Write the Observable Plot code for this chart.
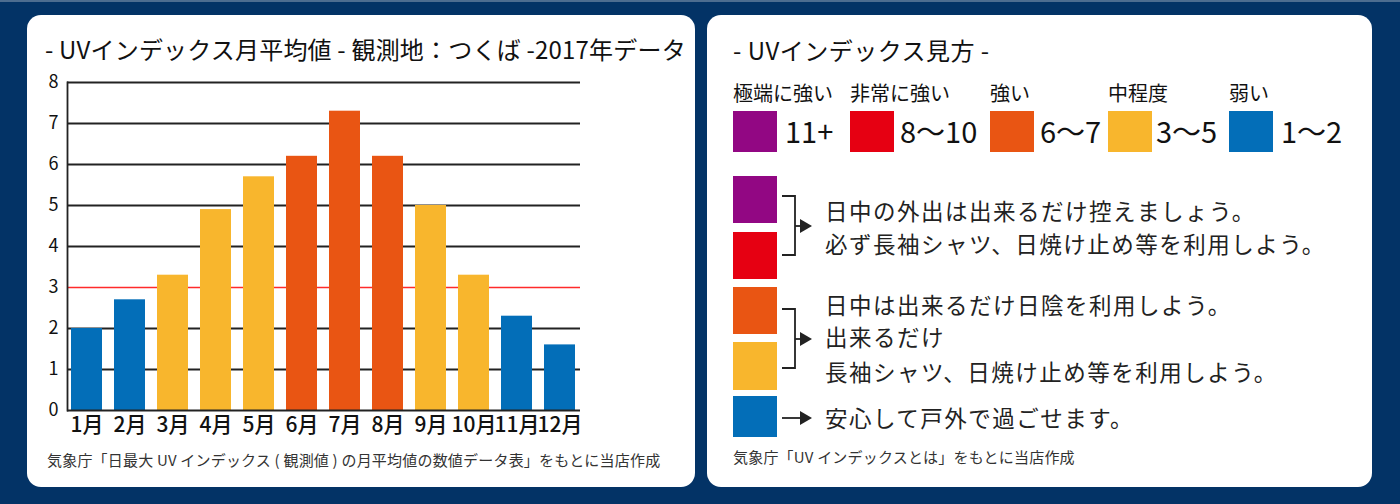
<!DOCTYPE html>
<html lang="ja">
<head>
<meta charset="utf-8">
<script src="https://cdn.jsdelivr.net/npm/d3@7"></script>
<script src="https://cdn.jsdelivr.net/npm/@observablehq/plot@0.6"></script>
<style>
  html, body { margin: 0; padding: 0; }
  body { width: 1400px; height: 504px; background: #033366; position: relative; overflow: hidden;
         font-family: "Noto Sans CJK JP", "Noto Sans", sans-serif; color: #1a1a1a; }
  .topstrip { position: absolute; left: 0; top: 0; width: 1400px; height: 2px; background: #4d6d90; }
  .card { position: absolute; background: #fff; border-radius: 14px; }
  .abs { position: absolute; white-space: nowrap; line-height: 1; }
  .sw { position: absolute; width: 44px; }
</style>
</head>
<body>
<div class="topstrip"></div>
<div class="card" style="left:27px; top:15px; width:668px; height:472px;"></div>
<div class="card" style="left:707px; top:15px; width:665px; height:472px;"></div>

<div class="abs" style="left:45px; top:37px; font-size:24px; letter-spacing:0.2px; color:#111;">- UVインデックス月平均値 - 観測地：つくば -2017年データ</div>
<div id="chart" style="position:absolute; left:27px; top:62px;"></div>
<div class="abs" style="left:47px; top:452px; font-size:15px; letter-spacing:0.2px; color:#333;">気象庁「日最大 UV インデックス ( 観測値 ) の月平均値の数値データ表」をもとに当店作成</div>

<div class="abs" style="left:733px; top:38px; font-size:24px; letter-spacing:0.5px; color:#111;">- UVインデックス見方 -</div>
<div id="legend"></div>
<div id="advice"></div>
<div class="abs" style="left:733px; top:449px; font-size:15px; letter-spacing:0.2px; color:#333;">気象庁「UV インデックスとは」をもとに当店作成</div>

<script>
// ---- data ----
const months = ["1月","2月","3月","4月","5月","6月","7月","8月","9月","10月","11月","12月"];
const uvValues = [2.0, 2.7, 3.3, 4.9, 5.7, 6.2, 7.3, 6.2, 5.0, 3.3, 2.3, 1.6];
const uvLevels = ["弱い","弱い","中程度","中程度","中程度","強い","強い","強い","中程度","中程度","弱い","弱い"];
const levelNames = ["極端に強い","非常に強い","強い","中程度","弱い"];
const levelRanges = ["11+","8～10","6～7","3～5","1～2"];
const levelColors = ["#920783","#e60012","#e95513","#f8b62d","#036eb8"];
const yTicks = [0,1,2,3,4,5,6,7,8];
const gridValues = [1,2,4,5,6,7,8];
const threshold = [3];
const adviceGroups = [
  {levels: ["極端に強い","非常に強い"], lines: ["日中の外出は出来るだけ控えましょう。","必ず長袖シャツ、日焼け止め等を利用しよう。"]},
  {levels: ["強い","中程度"], lines: ["日中は出来るだけ日陰を利用しよう。","出来るだけ","長袖シャツ、日焼け止め等を利用しよう。"]},
  {levels: ["弱い"], lines: ["安心して戸外で過ごせます。"]}
];

const data = months.map((m, i) => ({month: m, value: uvValues[i], level: uvLevels[i]}));

const chart = Plot.plot({
  width: 570,
  height: 388,
  marginLeft: 40,
  marginRight: 17,
  marginTop: 20,
  marginBottom: 40,
  x: {domain: months, paddingInner: 0.27, paddingOuter: 0.1, label: null},
  y: {domain: [0, 8], label: null},
  color: {domain: levelNames, range: levelColors},
  style: {fontFamily: "'Noto Sans CJK JP', sans-serif", background: "transparent", color: "#111", overflow: "visible"},
  marks: [
    Plot.ruleY(gridValues, {stroke: "#222", strokeWidth: 1.8}),
    Plot.ruleY(threshold, {stroke: "#ff2b2b", strokeWidth: 1.3}),
    Plot.barY(data, {x: "month", y: "value", fill: "level"}),
    Plot.ruleY([0], {stroke: "#222", strokeWidth: 1.8}),
    Plot.frame({anchor: "left", stroke: "#222", strokeWidth: 1.8}),
    Plot.axisY({ticks: yTicks, tickSize: 0, tickPadding: 9, fontSize: 18, label: null}),
    Plot.axisX({tickSize: 0, tickPadding: 7, fontSize: 21, fontWeight: 500, label: null})
  ]
});
document.getElementById("chart").appendChild(chart);

// ---- legend (right card) ----
const legendLeft = [733, 850, 990, 1108, 1229];
const legendValLeft = [785, 900, 1040, 1156, 1281];
const legend = document.getElementById("legend");
levelNames.forEach((name, i) => {
  legend.insertAdjacentHTML("beforeend",
    `<div class="abs" style="left:${legendLeft[i]}px; top:83px; font-size:20px; color:#111;">${name}</div>` +
    `<div class="sw" style="left:${legendLeft[i]}px; top:111px; height:41px; background:${levelColors[i]};"></div>` +
    `<div class="abs" style="left:${legendValLeft[i]}px; top:116px; font-size:29px; color:#111;">${levelRanges[i]}</div>`);
});

// ---- advice section ----
const colorOf = name => levelColors[levelNames.indexOf(name)];
const swatchBoxes = [[176, 47], [232, 47], [287, 47], [342, 48], [396, 41]];
const lineCenters = [[211, 244], [305, 337, 372], [418]];
const advice = document.getElementById("advice");
let k = 0;
adviceGroups.forEach((g, gi) => {
  g.levels.forEach(l => {
    const [t, h] = swatchBoxes[k++];
    advice.insertAdjacentHTML("beforeend", `<div class="sw" style="left:733px; top:${t}px; height:${h}px; background:${colorOf(l)};"></div>`);
  });
  g.lines.forEach((line, li) => {
    advice.insertAdjacentHTML("beforeend", `<div class="abs" style="left:825px; top:${lineCenters[gi][li] - 12}px; font-size:22.5px; letter-spacing:1.5px; color:#222;">${line}</div>`);
  });
});
// brackets and arrows
advice.insertAdjacentHTML("beforeend", `
<svg style="position:absolute; left:0; top:0;" width="1400" height="504">
  <g fill="none" stroke="#222" stroke-width="1.8">
    <path d="M782,196 H795 V255 H782"/>
    <path d="M795,226 H802"/>
    <path d="M782,309 H795 V368 H782"/>
    <path d="M795,339 H802"/>
    <path d="M782,418 H802"/>
  </g>
  <g fill="#222">
    <path d="M800,219 L812,226 L800,233 Z"/>
    <path d="M800,332 L812,339 L800,346 Z"/>
    <path d="M800,411 L812,418 L800,425 Z"/>
  </g>
</svg>`);
</script>
</body>
</html>
